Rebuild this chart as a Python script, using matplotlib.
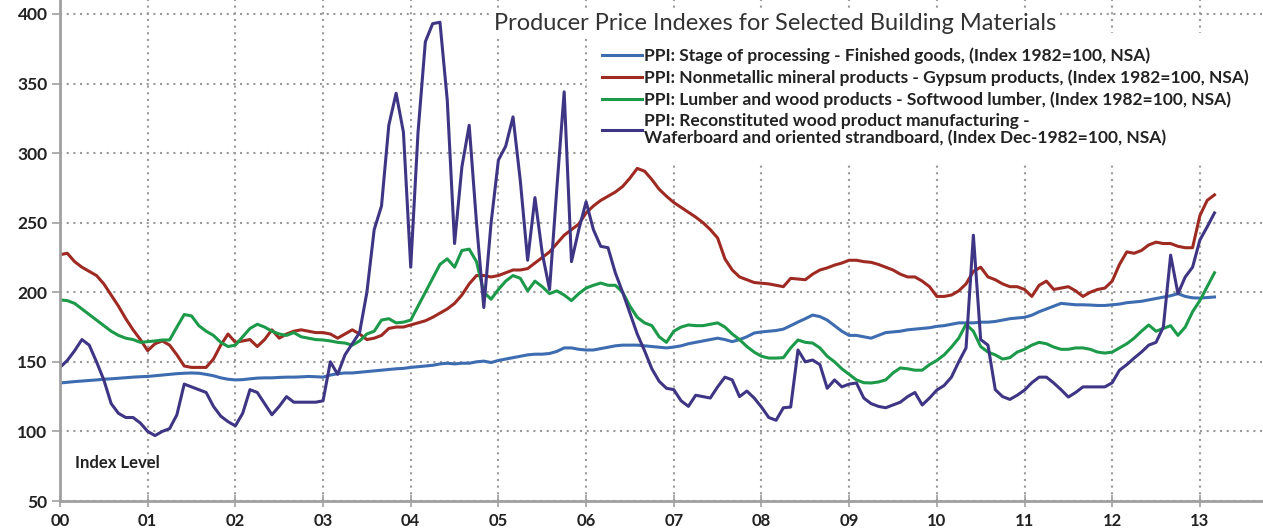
import matplotlib.pyplot as plt
import numpy as np

plt.rcParams['font.family'] = ['Lato', 'DejaVu Sans']

# monthly index values, Jan 2000 - Mar 2013
finished_goods = [
    134.8, 135.3, 135.8, 136.2, 136.6, 137.0, 137.5, 137.8, 138.2, 138.6, 139.0, 139.3,
    139.5, 140.0, 140.5, 141.0, 141.5, 141.8, 142.0, 141.8, 141.0, 140.0, 138.5, 137.5,
    137.0, 137.2, 137.8, 138.3, 138.5, 138.5, 138.8, 139.0, 139.0, 139.2, 139.5, 139.3,
    139.0, 140.5, 141.5, 142.0, 142.0, 142.5, 143.0, 143.5, 144.0, 144.5, 145.0, 145.3,
    146.0, 146.5, 147.0, 147.5, 148.5, 149.0, 148.5, 149.0, 149.0, 150.0, 150.5, 149.5,
    151.0, 152.0, 153.0, 154.0, 155.0, 155.5, 155.5, 156.0, 157.5, 160.0, 160.0, 159.0,
    158.5, 158.5, 159.5, 160.5, 161.5, 162.0, 162.0, 162.0, 161.5, 161.0, 160.5, 160.0,
    160.6, 161.5, 163.0, 164.0, 165.0, 166.0, 167.0, 166.0, 164.5, 166.0, 168.0, 170.7,
    171.5, 172.0, 172.5, 173.5, 176.0, 178.6, 181.0, 183.6, 182.5, 180.0, 176.0, 172.0,
    169.0, 169.0, 168.0, 167.0, 169.0, 171.0, 171.5, 172.0, 173.0, 173.5, 174.0, 174.5,
    175.5, 176.0, 177.0, 178.0, 178.0, 178.0, 178.5, 178.5, 179.0, 180.0, 181.0, 181.5,
    182.0, 183.5, 186.0, 188.0, 190.0, 192.0, 191.5, 191.0, 191.0, 190.8, 190.5, 190.5,
    191.0, 191.5, 192.5, 193.0, 193.5, 194.5, 195.5, 196.5, 197.5, 199.0, 197.0, 196.0,
    195.8, 196.2, 196.6,
]

gypsum = [
    227, 228, 222, 218, 215, 212, 206, 198, 190, 181, 173, 166,
    158, 163, 165, 162, 155, 147, 146, 146, 146, 152, 162, 170,
    164, 165, 166, 161, 166, 173, 167, 170, 172, 173, 172, 171,
    171, 170, 167, 170, 173, 170, 166, 167, 169, 174, 175, 175,
    176.5, 178, 179.5, 182, 185, 188, 192, 198, 206, 212, 212, 211,
    212, 214, 216, 216, 217, 221, 225, 229, 235, 241, 245, 249,
    257, 262, 266, 269, 272, 276, 282, 289, 287, 281, 274, 269,
    264.5, 261, 257.5, 254, 250, 245, 239, 224, 216, 211, 209, 207,
    206.5, 206, 205, 204, 210, 209.5, 209, 213, 216, 217.5, 219.5, 221,
    223, 223, 222, 221.5, 220, 218, 216, 213, 211, 211, 208, 204,
    197, 197, 198, 201, 206, 215, 218, 211, 209, 206, 204, 204,
    202, 197, 205, 208, 202, 203, 204, 201, 197, 200, 202, 203,
    208, 220, 229, 228, 230, 234, 236, 235, 235, 233, 232, 232,
    255, 266, 270,
]

softwood = [
    194.5, 194, 192, 188, 184, 180, 176, 172, 169, 167, 166, 164,
    164.5, 165, 165.7, 165.7, 175, 184, 183, 176, 172, 169, 164, 161,
    162, 168, 174, 177, 175, 172, 170, 169, 171, 168, 167, 166,
    165.7, 165, 164, 163.5, 162, 165, 170, 172, 180, 181, 178, 178.5,
    180, 190, 200, 210, 220, 224, 218, 230, 231, 222, 200, 195,
    202, 208, 212, 210, 201, 208, 204, 199, 201, 198, 194, 199,
    203, 205, 206.6, 205, 205, 200, 190, 182, 178, 176, 168, 164,
    172, 175, 176.5, 176, 176, 177, 178, 175, 170, 166, 161, 157,
    154, 152.7, 152.7, 153, 160, 165.7, 164, 163.5, 160, 154, 150, 145,
    141, 137, 135, 134.8, 135.5, 137, 142, 145.6, 145, 144, 144, 148,
    151, 155, 160.6, 167, 177, 172, 161, 157, 155, 152, 153, 157,
    159, 162, 164, 163, 160.6, 159, 159, 160, 160, 159, 157, 156.3,
    157, 160, 163, 167, 172, 176.5, 172, 174, 176, 169, 175, 186,
    194, 204, 214,
]

osb = [
    146, 151, 158, 166, 162, 150, 137, 120, 113, 110, 110, 106,
    100, 97, 100, 102, 112, 134, 132, 130, 128, 118, 111, 107,
    104, 113, 130, 128, 120, 112, 118, 125, 121, 121, 121, 121,
    122, 150, 141, 155, 163, 171, 200, 245, 262, 320, 343, 315,
    218, 315, 380, 393, 394, 338, 235, 290, 320, 250, 189, 250,
    295, 305, 326, 280, 223, 268, 228, 202, 275, 344, 222, 245,
    265, 245, 233, 232, 214, 200, 185, 170, 158, 145, 136, 131,
    130, 122, 118, 126, 125, 124, 132, 139, 137, 125, 129, 124,
    117.5, 110, 108, 117, 117.5, 158.5, 150, 151.3, 148, 131, 137, 132,
    134, 134.8, 124, 120, 118, 117, 119, 121, 125, 128, 119, 124,
    129.7, 133, 139, 150, 160, 241, 166, 162, 130, 125, 123, 126,
    129.7, 135, 139, 139, 134.8, 130, 124.7, 128, 132, 132, 132, 132,
    135, 144, 148, 152.7, 157, 162, 164, 175, 226.7, 199, 211, 218,
    237.5, 247, 257,
]

labels = [
    'PPI: Stage of processing - Finished goods, (Index 1982=100, NSA)',
    'PPI: Nonmetallic mineral products - Gypsum products, (Index 1982=100, NSA)',
    'PPI: Lumber and wood products - Softwood lumber, (Index 1982=100, NSA)',
    'PPI: Reconstituted wood product manufacturing -\n'
    'Waferboard and oriented strandboard, (Index Dec-1982=100, NSA)',
]
colors = ['#3d6db0', '#9e2a22', '#1c9a4a', '#3f3585']

year_ticks = np.arange(2000, 2014)
year_labels = ['%02d' % (y % 100) for y in year_ticks]

x = 2000 + np.arange(len(finished_goods)) / 12.0

fig = plt.figure(figsize=(12.63, 5.31), dpi=100)
ax = fig.add_axes([60 / 1263, 30 / 531, 1203 / 1263, 501 / 531])

series = [finished_goods, gypsum, softwood, osb]
for vals, lab, col in zip(series, labels, colors):
    ax.plot(x, vals, color=col, linewidth=2.2, label=lab, solid_joinstyle='round')

ax.set_xlim(2000, 2013.72)
ax.set_ylim(50, 410)
ax.set_yticks(np.arange(50, 401, 50))
ax.set_xticks(year_ticks)
ax.set_xticklabels(year_labels)

ax.grid(True, color='#9a9a9a', linestyle=(0, (1, 2.2)), linewidth=1.5)
ax.set_axisbelow(True)

for s in ['top', 'right']:
    ax.spines[s].set_visible(False)
for s in ['left', 'bottom']:
    ax.spines[s].set_color('#a0a0a0')
    ax.spines[s].set_linewidth(2)

ax.tick_params(axis='x', direction='inout', length=9, width=1.2, color='#a0a0a0',
               pad=4, labelsize=12, labelcolor='#222222')
ax.tick_params(axis='y', direction='out', length=6, width=1.2, color='#a0a0a0',
               pad=3, labelsize=12.5, labelcolor='#222222')
for t in ax.get_xticklabels() + ax.get_yticklabels():
    t.set_fontweight('bold')

ax.text(2000.17, 77, 'Index Level', fontsize=12, fontweight='bold', color='#222222',
        va='center', ha='left')

fig.text(775 / 1263, 1 - 23 / 531, 'Producer Price Indexes for Selected Building Materials',
         ha='center', va='center', fontsize=17, color='#333333',
         bbox=dict(facecolor='white', edgecolor='none', pad=3))

leg = ax.legend(loc='upper left', bbox_to_anchor=(587 / 1263, 1 - 33 / 531),
                bbox_transform=fig.transFigure, frameon=True, fancybox=False,
                framealpha=1, edgecolor='none', facecolor='white',
                prop={'weight': 'bold', 'size': 12.5}, handlelength=2.3,
                handletextpad=0.15, labelspacing=0.3, borderpad=0.85,
                borderaxespad=0)
for t in leg.get_texts():
    t.set_color('#222222')
    t.set_linespacing(1.05)

fig.savefig('out.png', dpi=100)
